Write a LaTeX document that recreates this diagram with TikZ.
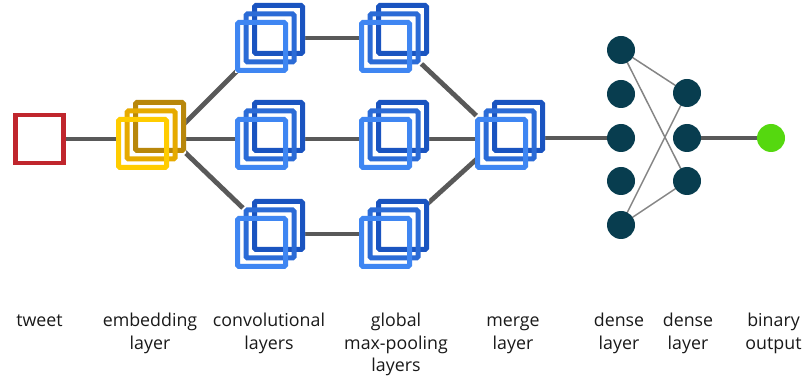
\documentclass[tikz,border=0pt]{standalone}
\usepackage{fontspec}
\setmainfont{Open Sans}
\usetikzlibrary{calc}
\pgfdeclarelayer{background}
\pgfsetlayers{background,main}
\definecolor{bblue}{HTML}{1A54C0}
\definecolor{mblue}{HTML}{2B6BD6}
\definecolor{fblue}{HTML}{3F86F2}
\definecolor{byel}{HTML}{B8870B}
\definecolor{myel}{HTML}{E6AA00}
\definecolor{fyel}{HTML}{FFCC00}
\definecolor{tred}{HTML}{C0262D}
\definecolor{dteal}{HTML}{083D4F}
\definecolor{ogreen}{HTML}{55D80F}
\definecolor{lgray}{HTML}{595959}
\definecolor{tgray}{HTML}{858585}
\newcommand\mystack[6]{%
  \fill[white] (#2-35,#3-18) -- (#2-18,#3-35) -- (#2+35,#3-35) -- (#2+35,#3+18) -- (#2+18,#3+35) -- (#2-35,#3+35) -- cycle;
  \draw[sqbox,draw=#4] (#2+8.5-24,#3-8.5-24) rectangle (#2+8.5+24,#3-8.5+24);
  \draw[sqbox,draw=#5] (#2-24,#3-24) rectangle (#2+24,#3+24);
  \draw[sqbox,draw=#6] (#2-8.5-24,#3+8.5-24) rectangle (#2-8.5+24,#3+8.5+24);
  \node[inner sep=0pt,minimum width=70pt,minimum height=70pt] (#1) at (#2,#3) {};
}
\begin{document}
\begin{tikzpicture}[x=1pt,y=-1pt,
  sqbox/.style={line width=5pt,rounded corners=1.5pt},
  link/.style={draw=lgray,line width=4.8pt},
  thin/.style={draw=tgray,line width=1.5pt},
  neuron/.style={circle,fill=dteal,minimum size=28pt,inner sep=0pt},
  lbl/.style={font=\fontsize{17.8}{22.5}\selectfont,align=center,anchor=north,inner sep=0pt,text=black!90}]
\useasboundingbox (0,0) rectangle (803,379);
% tweet
\node[draw=tred,line width=4.7pt,minimum size=48pt,inner sep=0pt] (tweet) at (39.5,139) {};
% stacks
\mystack{emb}{151}{135}{byel}{myel}{fyel}
\mystack{conv1}{270}{38}{bblue}{mblue}{fblue}
\mystack{conv2}{270}{135}{bblue}{mblue}{fblue}
\mystack{conv3}{270}{234}{bblue}{mblue}{fblue}
\mystack{pool1}{394}{38}{bblue}{mblue}{fblue}
\mystack{pool2}{394}{135}{bblue}{mblue}{fblue}
\mystack{pool3}{394}{234}{bblue}{mblue}{fblue}
\mystack{merge}{510}{135}{bblue}{mblue}{fblue}
% dense
\node[neuron] (d1) at (621,50) {};
\node[neuron] (d2) at (621,94) {};
\node[neuron] (d3) at (621,138) {};
\node[neuron] (d4) at (621,181) {};
\node[neuron] (d5) at (621,225) {};
\node[neuron] (e1) at (687,93) {};
\node[neuron] (e2) at (687,138) {};
\node[neuron] (e3) at (687,181) {};
\node[circle,fill=ogreen,minimum size=28pt,inner sep=0pt] (out) at (771,138) {};
\coordinate (esplit) at (170,138);
\coordinate (msplit) at (500,138);
\begin{pgfonlayer}{background}
\draw[link] (tweet.east) -- (tweet.east -| merge.center);
\draw[link] (esplit) -- (conv1.center);
\draw[link] (esplit) -- (conv3.center);
\draw[link] (conv1.center) -- (pool1.center);
\draw[link] (conv3.center) -- (pool3.center);
\draw[link] (pool1.center) -- (msplit);
\draw[link] (pool3.center) -- (msplit);
\draw[link] (merge.center |- d3) -- (d3);
\draw[link] (e2) -- (out);
\draw[thin] (d1.center) -- (e1.center);
\draw[thin] (d1.center) -- (e3.center);
\draw[thin] (d5.center) -- (e1.center);
\draw[thin] (d5.center) -- (e3.center);
\end{pgfonlayer}
% labels
\node[lbl] (t1) at (39.5,311) {\strut tweet};
\node[lbl] (t2) at (150,311) {\strut embedding\\layer};
\node[lbl] (t3) at (269,311) {\strut convolutional\\layers};
\node[lbl] (t4) at (396,311) {\strut global\\max-pooling\\layers};
\node[lbl] (t5) at (513,311) {\strut merge\\layer};
\node[lbl] (t6) at (619,311) {\strut dense\\layer};
\node[lbl] (t7) at (688,311) {\strut dense\\layer};
\node[lbl] (t8) at (773.5,311) {\strut binary\\output};
\end{tikzpicture}
\end{document}
